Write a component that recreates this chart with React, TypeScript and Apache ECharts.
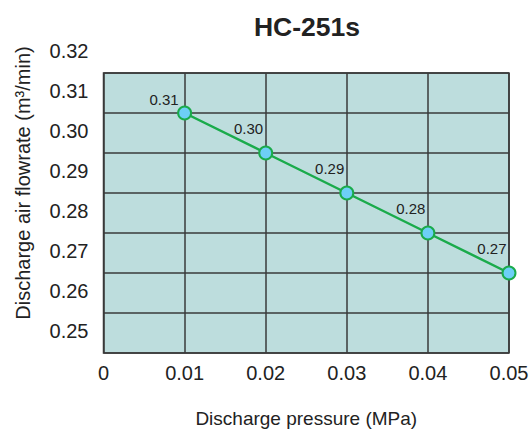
import React, { useEffect, useRef } from "react";
import * as echarts from "echarts";

const pressures = [0.01, 0.02, 0.03, 0.04, 0.05];
const flowrates = [0.31, 0.30, 0.29, 0.28, 0.27];
const titleText = "HC-251s";
const xName = "Discharge pressure (MPa)";
const yName = "Discharge air flowrate (m³/min)";

export default function App() {
  const ref = useRef<HTMLDivElement>(null);
  useEffect(() => {
    const chart = echarts.init(ref.current!, null, { renderer: "svg" });
    const font = "'Liberation Sans', Arial, sans-serif";
    const gridLine = { show: true, lineStyle: { color: "#3a3a3a", width: 1.5 } };
    chart.setOption({
      animation: false,
      textStyle: { fontFamily: font },
      title: {
        text: titleText,
        left: 302,
        textAlign: "center",
        top: 8,
        textStyle: { fontSize: 26.5, fontWeight: "bold", color: "#222", fontFamily: font },
      },
      graphic: [
        {
          type: "text",
          x: 23,
          y: 183,
          rotation: Math.PI / 2,
          style: {
            text: yName,
            fontSize: 20,
            fontFamily: font,
            fill: "#222",
            textAlign: "center",
            textVerticalAlign: "middle",
          },
        },
      ],
      grid: [
        {
          left: 103.5,
          right: 20,
          top: 73,
          bottom: 77,
          outerBoundsMode: "none",
          containLabel: false,
          show: true,
          backgroundColor: "#bddddd",
          borderColor: "#3a3a3a",
          borderWidth: 1.5,
        },
        {
          left: 103.5,
          right: 20,
          top: 51,
          bottom: 99,
          outerBoundsMode: "none",
          containLabel: false,
          show: false,
        },
      ],
      xAxis: [
        {
          type: "value",
          gridIndex: 0,
          min: 0,
          max: 0.05,
          interval: 0.01,
          name: xName,
          nameLocation: "middle",
          nameGap: 56,
          nameTextStyle: { fontSize: 19, color: "#222", fontFamily: font },
          axisLine: { show: false },
          axisTick: { show: false },
          axisLabel: {
            fontSize: 20,
            color: "#222",
            margin: 10,
            showMinLabel: true,
            showMaxLabel: true,
            formatter: (v: number) => (v === 0 ? "0" : v.toFixed(2)),
          },
          splitLine: gridLine,
        },
        { type: "value", gridIndex: 1, min: 0, max: 0.05, show: false },
      ],
      yAxis: [
        {
          type: "value",
          gridIndex: 0,
          min: 0.25,
          max: 0.32,
          interval: 0.01,
          axisLine: { show: false },
          axisTick: { show: false },
          axisLabel: { show: false },
          splitLine: gridLine,
        },
        {
          type: "value",
          gridIndex: 1,
          min: 0.25,
          max: 0.32,
          interval: 0.01,
          axisLine: { show: false },
          axisTick: { show: false },
          splitLine: { show: false },
          axisLabel: {
            fontSize: 20,
            color: "#222",
            margin: 15,
            showMinLabel: true,
            showMaxLabel: true,
            formatter: (v: number) => v.toFixed(2),
          },
        },
      ],
      series: [
        {
          type: "line",
          xAxisIndex: 0,
          yAxisIndex: 0,
          data: pressures.map((p, i) => ({
            value: [p, flowrates[i]],
            label: i === 0 ? { offset: [6.5, -14] } : undefined,
          })),
          symbol: "circle",
          symbolSize: 13,
          lineStyle: { color: "#1aab4b", width: 2.5 },
          itemStyle: { color: "#6dcff6", borderColor: "#1aab4b", borderWidth: 2 },
          label: {
            show: true,
            position: "left",
            offset: [10, -25],
            fontSize: 15,
            color: "#222",
            formatter: (p: any) => p.value[1].toFixed(2),
          },
          z: 5,
        },
      ],
    });
    return () => chart.dispose();
  }, []);
  return <div ref={ref} style={{ width: 529, height: 430, position: "absolute", left: 0, top: 0 }} />;
}
